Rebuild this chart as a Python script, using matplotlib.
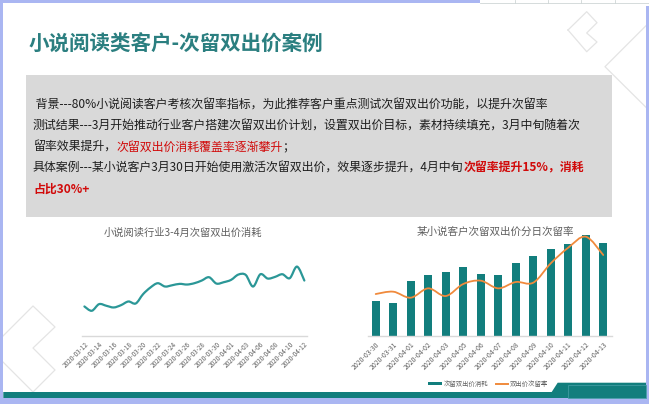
import matplotlib
matplotlib.use('Agg')
import matplotlib.pyplot as plt
from matplotlib.path import Path
from matplotlib.patches import PathPatch, Rectangle, Polygon
import numpy as np

plt.rcParams['font.family'] = ['Noto Sans CJK SC', 'DejaVu Sans']

# ---------------- data ----------------
title = '小说阅读类客户-次留双出价案例'
left_title = '小说阅读行业3-4月次留双出价消耗'
right_title = '某小说客户次留双出价分日次留率'

line_dates = ['2020-03-12', '2020-03-13', '2020-03-14', '2020-03-15', '2020-03-16',
              '2020-03-17', '2020-03-18', '2020-03-19', '2020-03-20', '2020-03-21',
              '2020-03-22', '2020-03-23', '2020-03-24', '2020-03-25', '2020-03-26',
              '2020-03-27', '2020-03-28', '2020-03-29', '2020-03-30', '2020-03-31',
              '2020-04-01', '2020-04-02', '2020-04-03', '2020-04-05', '2020-04-06',
              '2020-04-07', '2020-04-08', '2020-04-09', '2020-04-10', '2020-04-11',
              '2020-04-12']
line_values = [88, 75, 95, 90, 85, 92, 103, 97, 125, 145, 158, 148, 152, 156, 154,
               158, 166, 176, 157, 161, 168, 184, 183, 148, 185, 172, 177, 185, 173,
               208, 166]

bar_dates = ['2020-03-30', '2020-03-31', '2020-04-01', '2020-04-02', '2020-04-03',
             '2020-04-05', '2020-04-06', '2020-04-07', '2020-04-08', '2020-04-09',
             '2020-04-10', '2020-04-11', '2020-04-12', '2020-04-13']
bar_values = [104, 99, 163, 183, 192, 207, 185, 183, 217, 239, 259, 276, 303, 279]
rate_values = [22.5, 23.2, 21.4, 24.2, 21.9, 25.5, 26.5, 24.2, 26.1, 25.9, 31.7,
               36.4, 39.7, 34.2]
bar_label = '次留双出价消耗'
rate_label = '双出价次留率'

text_lines = [
    [(' 背景---80%小说阅读客户考核次留率指标，为此推荐客户重点测试次留双出价功能，以提升次留率', 'k', 'normal')],
    [('测试结果---3月开始推动行业客户搭建次留双出价计划，设置双出价目标，素材持续填充，3月中旬随着次', 'k', 'normal')],
    [('留率效果提升，', 'k', 'normal'), ('次留双出价消耗覆盖率逐渐攀升', 'r', 'normal'), ('；', 'k', 'normal')],
    [('具体案例---某小说客户3月30日开始使用激活次留双出价，效果逐步提升，4月中旬', 'k', 'normal'),
     ('次留率提升15%，消耗', 'r', 'bold')],
    [('占比30%+', 'r', 'bold')],
]

# ---------------- style ----------------
W, H = 649, 404
TEAL = '#127e7d'
LINE_TEAL = '#2b9797'
ORANGE = '#f08a3c'
BLUE = '#aab6f2'
GRAY_TXT = '#5f5f5f'
DECO = '#e4e4e4'
BODY_FS = 8.6

fig = plt.figure(figsize=(W / 100, H / 100), dpi=100)
fig.patch.set_facecolor('white')

bg = fig.add_axes([0, 0, 1, 1], zorder=0)
bg.set_xlim(0, W)
bg.set_ylim(H, 0)
bg.axis('off')

# decorative outlines
for pts in [
    [(568, 30), (586.7, 11.7), (597, 22.7), (586.7, 33), (597, 42), (586.7, 51.7), (568, 30)],
    [(646.7, 25), (605, 66.7), (646.7, 108)],
    [(3, 336), (33, 306), (55, 327), (33, 348), (55, 370), (33, 392), (3, 362)],
]:
    xs, ys = zip(*pts)
    bg.plot(xs, ys, color=DECO, lw=0.9, zorder=1)

# frame
bg.add_patch(Rectangle((0, 0), 480, 2.5, color=BLUE, lw=0, zorder=2))
bg.plot([480, W], [3, 3], color='#cfd6d6', lw=0.6, zorder=2)
for xt in [515, 548, 581, 615]:
    bg.plot([xt, xt], [0, 3], color='#cfd6d6', lw=0.6, zorder=2)
bg.add_patch(Rectangle((0, 0), 3.3, H, color=BLUE, lw=0, zorder=2))
bg.add_patch(Rectangle((646, 6), 3, H, color=BLUE, lw=0, zorder=2))
bg.add_patch(Rectangle((0, 398), W, 6, color=BLUE, lw=0, zorder=2))
bg.add_patch(Polygon([(3.3, 392), (551.7, 392), (557.7, 382.7), (646, 382.7),
                      (646, 398), (3.3, 398)], closed=True, color=TEAL, lw=0, zorder=3))
bg.add_patch(Rectangle((567.7, 385), 78, 13, fill=False, edgecolor='#3f9aa0', lw=0.6, zorder=4))

# title
bg.text(29, 44, title, fontsize=14.8, fontweight='bold', color='#2b7f80',
        va='center', ha='left', zorder=5)

# gray box + text
bg.add_patch(Rectangle((26, 75), 586, 142, color='#d9d9d9', lw=0, zorder=2))
line_y = [105, 126, 147.5, 168, 189]
colors = {'k': '#1e1e1e', 'r': '#d10a0a'}
for y, segs in zip(line_y, text_lines):
    prev = None
    for s, c, w in segs:
        if prev is None:
            prev = bg.text(33, y, s, fontsize=BODY_FS, color=colors[c], fontweight=w,
                           va='center', ha='left', zorder=5)
        else:
            prev = bg.annotate(s, xy=(1, 0.5), xycoords=prev, fontsize=BODY_FS,
                               color=colors[c], fontweight=w, va='center', ha='left',
                               zorder=5)

# chart titles
bg.text(183, 233, left_title, fontsize=7.4, color=GRAY_TXT, ha='center', va='center', zorder=5)
bg.text(495, 232, right_title, fontsize=7.6, color=GRAY_TXT, ha='center', va='center', zorder=5)

# legend
bg.add_patch(Rectangle((428, 382.2), 14, 3, color=TEAL, lw=0, zorder=5))
bg.text(443.5, 383.7, bar_label, fontsize=4.6, color=GRAY_TXT, va='center', ha='left', zorder=5)
bg.plot([496, 508], [383.7, 383.7], color=ORANGE, lw=1.4, zorder=5)
bg.text(509.5, 383.7, rate_label, fontsize=4.6, color=GRAY_TXT, va='center', ha='left', zorder=5)


def fax(x0, y0, x1, y1, **kw):
    return fig.add_axes([x0 / W, 1 - y1 / H, (x1 - x0) / W, (y1 - y0) / H], **kw)


def smooth_path(xs, ys):
    xs = np.asarray(xs, float)
    ys = np.asarray(ys, float)
    pts = np.column_stack([xs, ys])
    n = len(pts)
    verts = [pts[0]]
    codes = [Path.MOVETO]
    for i in range(n - 1):
        p0 = pts[i - 1] if i > 0 else pts[i]
        p1 = pts[i]
        p2 = pts[i + 1]
        p3 = pts[i + 2] if i + 2 < n else pts[i + 1]
        c1 = p1 + (p2 - p0) / 6.0
        c2 = p2 - (p3 - p1) / 6.0
        verts += [c1, c2, p2]
        codes += [Path.CURVE4] * 3
    return Path(verts, codes)


def style_axes(ax):
    ax.set_facecolor('none')
    for sp in ['top', 'left', 'right']:
        ax.spines[sp].set_visible(False)
    ax.spines['bottom'].set_color('#d9d9d9')
    ax.spines['bottom'].set_linewidth(1.0)
    ax.set_yticks([])
    ax.tick_params(axis='x', length=0, pad=3.5, labelcolor=GRAY_TXT)


# left line chart
axl = fax(81.7, 245, 306.7, 335.7, zorder=2)
style_axes(axl)
xl = np.arange(len(line_values))
axl.add_patch(PathPatch(smooth_path(xl, line_values), fill=False, edgecolor=LINE_TEAL,
                        lw=1.6, capstyle='round', joinstyle='round'))
axl.set_xlim(-0.37, len(line_values) - 1 + 0.32)
axl.set_ylim(0, 273)
axl.set_xticks(xl[::2])
axl.set_xticklabels(line_dates[::2], rotation=45, ha='right', va='top',
                    rotation_mode='anchor', fontsize=4.6)

# right bar + line chart
axr = fax(368, 225, 612, 335.7, zorder=2)
style_axes(axr)
xr = np.arange(len(bar_values))
axr.bar(xr, bar_values, width=0.44, color=TEAL, zorder=2)
axr.set_xlim(-0.44, len(bar_values) - 1 + 0.5)
axr.set_ylim(0, 332)
axr.set_xticks(xr)
axr.set_xticklabels(bar_dates, rotation=45, ha='right', va='top',
                    rotation_mode='anchor', fontsize=4.9)
axr2 = axr.twinx()
axr2.set_zorder(3)
axr2.set_facecolor('none')
axr2.axis('off')
axr2.set_ylim(10, 10 + 33.2)
axr2.set_xlim(axr.get_xlim())
axr2.add_patch(PathPatch(smooth_path(xr, rate_values), fill=False, edgecolor=ORANGE,
                         lw=1.3, capstyle='round', joinstyle='round'))

fig.savefig('out.png', dpi=100, facecolor='white')
